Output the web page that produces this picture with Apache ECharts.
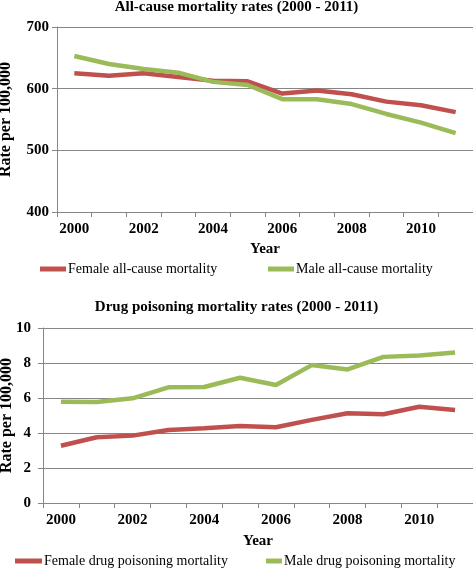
<!DOCTYPE html>
<html><head><meta charset="utf-8">
<script src="https://cdn.jsdelivr.net/npm/echarts@6/dist/echarts.min.js"></script>
<style>html,body{margin:0;padding:0;background:#fff}#c{width:473px;height:568px}</style>
</head><body><div id="c"></div>
<script>
const years = ['2000','2001','2002','2003','2004','2005','2006','2007','2008','2009','2010','2011'];
const femaleAll = [625, 621, 625, 619, 613, 612, 592, 597, 591, 579, 573, 562];
const maleAll = [653, 640, 632, 626, 611, 606, 583, 583, 575, 559, 545, 528];
const femaleDrug = [3.27, 3.76, 3.85, 4.17, 4.27, 4.4, 4.33, 4.75, 5.13, 5.07, 5.5, 5.32];
const maleDrug = [5.79, 5.77, 5.98, 6.61, 6.63, 7.16, 6.74, 7.88, 7.63, 8.35, 8.43, 8.6];
const titles = ['All-cause mortality rates (2000 - 2011)', 'Drug poisoning mortality rates (2000 - 2011)'];
const legendNames = ['Female all-cause mortality','Male all-cause mortality','Female drug poisoning mortality','Male drug poisoning mortality'];

const RED = '#C0504D', GREEN = '#9BBB59';
const FONT = 'Liberation Serif';
const chart = echarts.init(document.getElementById('c'), null, {renderer:'canvas'});

function xAxis(gi){
  return {
    type:'category', gridIndex:gi, data:years, boundaryGap:true,
    name:'Year', nameLocation:'middle', nameGap: gi===0?30:31, nameMoveOverlap:false,
    nameTextStyle:{fontFamily:FONT, fontWeight:'bold', fontSize:15, color:'#000'},
    axisLine:{lineStyle:{color:'#868686', width:1}},
    axisTick:{show:true, interval:0, length:5, lineStyle:{color:'#868686'}},
    axisLabel:{interval:1, fontFamily:FONT, fontWeight:'bold', fontSize:15, color:'#000', margin:10},
    splitLine:{show:false}
  };
}
function yAxis(gi, min, max, interval){
  return {
    type:'value', gridIndex:gi, min:min, max:max, interval:interval,
    name:'Rate per 100,000', nameLocation:'middle', nameGap: gi===0?43:28, nameMoveOverlap:false,
    nameTextStyle:{fontFamily:FONT, fontWeight:'bold', fontSize:16, color:'#000'},
    axisLine:{show:true, lineStyle:{color:'#868686', width:1}},
    axisTick:{show:true, length:5, lineStyle:{color:'#868686'}},
    axisLabel:{fontFamily:FONT, fontWeight:'bold', fontSize:15, color:'#000', margin: gi===0?8:12},
    splitLine:{show:true, lineStyle:{color:'#868686', width:1}}
  };
}
function series(name, data, color, gi){
  return {type:'line', name:name, data:data, xAxisIndex:gi, yAxisIndex:gi,
    symbol:'none', smooth:false, lineStyle:{color:color, width:4.5}, itemStyle:{color:color}};
}
function legend(name, left, top, w){
  return {data:[name], left:left, top:top, icon:'rect', itemWidth:w, itemHeight:5, itemGap:0,
    padding:0, selectedMode:false,
    textStyle:{fontFamily:FONT, fontSize:14, color:'#000', padding:[0,0,0,-3]}};
}

chart.setOption({
  animation:false,
  title:[
    {text:titles[0], left:'center', top:0, padding:[0,0,0,0], textStyle:{fontFamily:FONT, fontWeight:'bold', fontSize:15, color:'#000'}},
    {text:titles[1], left:'center', top:300, padding:[0,0,0,0], textStyle:{fontFamily:FONT, fontWeight:'bold', fontSize:15, color:'#000'}}
  ],
  grid:[
    {left:57, top:27, right:0, height:185, containLabel:false, outerBoundsMode:'none'},
    {left:43, top:328, right:0, height:175, containLabel:false, outerBoundsMode:'none'}
  ],
  xAxis:[xAxis(0), xAxis(1)],
  yAxis:[yAxis(0,400,700,100), yAxis(1,0,10,2)],
  legend:[
    legend(legendNames[0], 40, 262, 26),
    legend(legendNames[1], 268, 262, 26),
    legend(legendNames[2], 15, 554, 27),
    legend(legendNames[3], 266, 554, 16)
  ],
  series:[
    series(legendNames[0], femaleAll, RED, 0),
    series(legendNames[1], maleAll, GREEN, 0),
    series(legendNames[2], femaleDrug, RED, 1),
    series(legendNames[3], maleDrug, GREEN, 1)
  ]
});
</script></body></html>
